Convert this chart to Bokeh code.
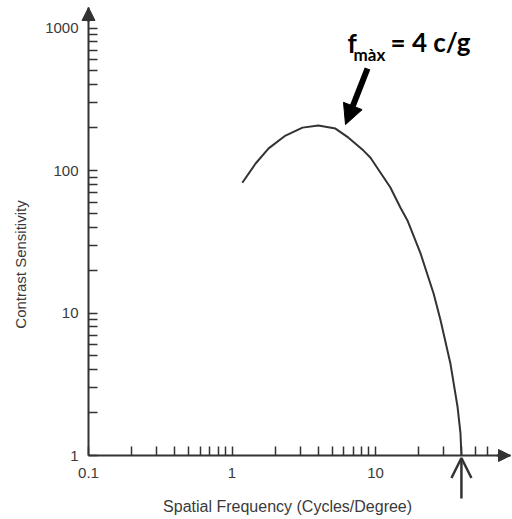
from bokeh.plotting import figure
from bokeh.models import Range1d, FixedTicker, Label, Arrow, NormalHead, OpenHead
from bokeh.embed import file_html
from bokeh.resources import INLINE

# Contrast sensitivity function (spatial frequency in cycles/degree)
freq = [1.18, 1.46, 1.80, 2.36, 3.10, 4.0, 5.26, 6.48, 8.25, 9.23,
        12.7, 14.9, 16.7, 20.6, 25.4, 28.4, 33.3, 37.3, 39.1, 39.7]
sensitivity = [82, 112, 143, 176, 200, 207, 197, 170, 138, 123,
               76, 55, 44.6, 26.2, 13.7, 8.9, 4.4, 2.2, 1.43, 1.0]

f_max = 4

x_major = [0.1, 1, 10]
x_labels = ["0.1", "1", "10"]
x_minor = [0.2, 0.3, 0.4, 0.5, 0.6, 0.7, 0.8, 0.9,
           2, 3, 4, 5, 6, 7, 8, 9, 20, 30, 40, 50, 60]
y_major = [1, 10, 100, 1000]
y_labels = ["1", "10", "100", "1000"]
y_minor = [2, 3, 4, 5, 6, 7, 8, 9, 20, 30, 40, 50, 60, 70, 80, 90,
           200, 300, 400, 500, 600, 700, 800, 900]

X_END = 87.3     # tip of the frequency axis arrow
Y_END = 1393     # tip of the sensitivity axis arrow

INK = "#333333"
TXT = "#3a3a3a"

# the frame fills the whole canvas; axes are pinned at x=0.1 and y=1
p = figure(width=512, height=519, x_axis_type="log", y_axis_type="log",
           x_range=Range1d(0.02436, 90.1), y_range=Range1d(0.3556, 1560),
           min_border=0, output_backend="svg", toolbar_location=None)
p.outline_line_color = None
p.xgrid.visible = False
p.ygrid.visible = False
p.background_fill_color = "white"

p.xaxis.fixed_location = y_major[0]
p.yaxis.fixed_location = x_major[0]
p.xaxis.bounds = (x_major[0], X_END)
p.yaxis.bounds = (y_major[0], Y_END)

p.xaxis.ticker = FixedTicker(ticks=x_major, minor_ticks=x_minor)
p.yaxis.ticker = FixedTicker(ticks=y_major, minor_ticks=y_minor)
p.xaxis.major_label_overrides = dict(zip(x_major, x_labels))
p.yaxis.major_label_overrides = dict(zip(y_major, y_labels))

for ax in (p.xaxis, p.yaxis):
    ax.axis_line_color = INK
    ax.axis_line_width = 2
    ax.major_tick_in = 9
    ax.major_tick_out = 0
    ax.minor_tick_in = 9
    ax.minor_tick_out = 0
    ax.major_tick_line_color = INK
    ax.minor_tick_line_color = INK
    ax.major_tick_line_width = 1.5
    ax.minor_tick_line_width = 1.5
    ax.major_label_text_font = "Liberation Sans"
    ax.major_label_text_font_size = "15px"
    ax.major_label_text_color = TXT
p.xaxis.major_label_standoff = 12
p.yaxis.major_label_standoff = 10

# sensitivity curve
p.line(freq, sensitivity, line_color=INK, line_width=2)

# arrow heads on the axes
p.add_layout(Arrow(end=NormalHead(size=12, fill_color=INK, line_color=INK),
                   x_start=70, y_start=1, x_end=X_END, y_end=1,
                   line_color=INK, line_width=2))
p.add_layout(Arrow(end=NormalHead(size=13, fill_color=INK, line_color=INK),
                   x_start=0.1, y_start=1100, x_end=0.1, y_end=Y_END,
                   line_color=INK, line_width=2))

# cut-off frequency marker
p.add_layout(Arrow(end=OpenHead(size=20, line_color=INK, line_width=2.5),
                   x_start=freq[-1], y_start=0.5, x_end=freq[-1], y_end=0.96,
                   line_color=INK, line_width=2.5))

# peak annotation
p.add_layout(Arrow(end=NormalHead(size=20, fill_color="black", line_color="black"),
                   x_start=8.8, y_start=520, x_end=6.18, y_end=210,
                   line_color="black", line_width=6))
p.add_layout(Label(x=6.38, y=791, text="f", text_font="Lato",
                   text_font_style="bold", text_font_size="26px",
                   text_color="black", text_baseline="alphabetic"))
p.add_layout(Label(x=7.03, y=652, text="màx", text_font="Lato",
                   text_font_style="bold", text_font_size="17px",
                   text_color="black", text_baseline="alphabetic"))
p.add_layout(Label(x=12.72, y=804, text=f"= {f_max} c/g", text_font="Lato",
                   text_font_style="bold", text_font_size="26px",
                   text_color="black", text_baseline="alphabetic"))

# axis titles
p.add_layout(Label(x=2.44, y=0.439, text="Spatial Frequency (Cycles/Degree)",
                   text_font="Liberation Sans", text_font_size="16px",
                   text_color=TXT, text_align="center", text_baseline="middle"))
p.add_layout(Label(x=0.0336, y=21.9, text="Contrast Sensitivity", angle=1.5708,
                   text_font="Liberation Sans", text_font_size="15px",
                   text_color=TXT, text_align="center", text_baseline="middle"))

open("out.html", "w").write(file_html(p, INLINE))
